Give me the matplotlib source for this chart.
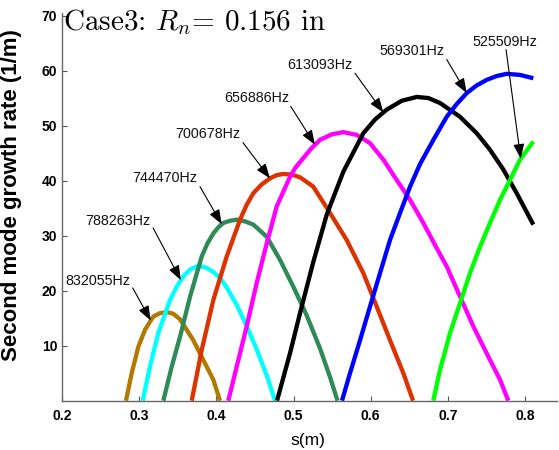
import numpy as np
import matplotlib
matplotlib.use('Agg')
import matplotlib.pyplot as plt

plt.rcParams['font.family'] = ['Liberation Sans', 'DejaVu Sans']
plt.rcParams['mathtext.fontset'] = 'cm'

# growth rate curves, one per frequency (s in m, rate in 1/m)
freqs = ['832055Hz', '788263Hz', '744470Hz', '700678Hz',
         '656886Hz', '613093Hz', '569301Hz', '525509Hz']
colors = ['#b07a00', '#00ffff', '#2e8b57', '#dd3300',
          '#ff00ff', '#000000', '#0000ff', '#00ff00']

s1 = [0.2829, 0.2903, 0.2989, 0.3076, 0.3183, 0.327, 0.3357, 0.3442, 0.3529, 0.3701, 0.3831, 0.3961, 0.4047]
g1 = [0.0, 5.0, 9.8, 12.9, 15.3, 15.9, 16.1, 15.8, 14.8, 11.0, 7.4, 3.8, 0.0]

s2 = [0.3046, 0.314, 0.3248, 0.34, 0.3486, 0.3572, 0.3666, 0.3766, 0.3866, 0.3961, 0.4047, 0.4134, 0.4264,
      0.4393, 0.4523, 0.4653, 0.476]
g2 = [0.0, 6.2, 12.3, 18.3, 20.7, 22.6, 23.9, 24.5, 24.2, 23.4, 22.3, 20.6, 17.4,
      13.6, 9.3, 4.6, 0.0]

s3 = [0.3313, 0.3422, 0.3529, 0.3659, 0.381, 0.3885, 0.3961, 0.4025, 0.409, 0.4177, 0.4264, 0.437, 0.4479,
      0.4653, 0.4825, 0.4998, 0.5171, 0.5343, 0.5473, 0.557]
g3 = [0.0, 6.2, 11.6, 18.9, 26.2, 28.6, 30.4, 31.5, 32.3, 32.7, 32.9, 32.6, 32.0,
      29.8, 25.6, 20.7, 15.5, 9.5, 4.3, 0.0]

s4 = [0.3681, 0.381, 0.3961, 0.4134, 0.4307, 0.4393, 0.4479, 0.4587, 0.4695, 0.4782, 0.4868, 0.4976, 0.5084,
      0.5256, 0.5473, 0.5689, 0.5904, 0.6078, 0.625, 0.6423, 0.6549]
g4 = [0.0, 9.2, 18.3, 26.2, 32.9, 35.6, 37.7, 39.3, 40.4, 41.0, 41.2, 41.1, 40.6,
      38.9, 34.1, 29.2, 23.2, 17.1, 11.0, 5.0, 0.0]

s5 = [0.4155, 0.4264, 0.4393, 0.4523, 0.4653, 0.4782, 0.4955, 0.5027, 0.511, 0.5227, 0.5343, 0.5494, 0.5645,
      0.5819, 0.5991, 0.6164, 0.6337, 0.651, 0.6682, 0.6833, 0.6985, 0.7158, 0.733, 0.7503, 0.7676, 0.7783]
g5 = [0.0, 6.2, 13.5, 21.4, 28.6, 35.3, 40.7, 42.4, 43.8, 45.8, 47.4, 48.4, 48.8,
      48.3, 46.8, 43.8, 40.1, 36.5, 32.3, 28.3, 24.4, 18.9, 13.5, 8.6, 3.8, 0.0]

s6 = [0.4786, 0.4954, 0.5084, 0.5256, 0.543, 0.5645, 0.5904, 0.6056, 0.6208, 0.6402, 0.6596, 0.6747, 0.6898,
      0.7157, 0.7374, 0.7546, 0.7719, 0.7892, 0.8107]
g6 = [0.0, 8.6, 15.9, 25.2, 33.8, 41.6, 48.6, 51.1, 52.9, 54.5, 55.2, 55.0, 54.1,
      51.6, 48.6, 45.6, 42.0, 37.7, 32.0]

s7 = [0.5628, 0.5732, 0.5862, 0.5991, 0.6121, 0.625, 0.638, 0.651, 0.6639, 0.6812, 0.6985, 0.7114, 0.7244,
      0.7374, 0.7503, 0.7633, 0.7763, 0.7935, 0.8107]
g7 = [0.0, 5.0, 11.0, 17.1, 23.2, 29.2, 34.1, 38.9, 43.0, 47.4, 51.6, 53.9, 55.9,
      57.3, 58.3, 59.0, 59.4, 59.2, 58.6]

s8 = [0.6811, 0.6898, 0.7028, 0.7157, 0.7287, 0.7417, 0.7546, 0.7676, 0.7805, 0.7935, 0.8107]
g8 = [0.0, 5.6, 12.3, 17.7, 23.2, 28.0, 32.3, 36.5, 40.1, 43.8, 47.1]

S = [s1, s2, s3, s4, s5, s6, s7, s8]
G = [g1, g2, g3, g4, g5, g6, g7, g8]

# label placement: text centre, arrow tail, s where the arrow meets the curve
lab_x = [0.246, 0.273, 0.3335, 0.389, 0.4523, 0.5343, 0.6533, 0.774]
lab_y = [21.8, 32.7, 40.4, 48.4, 55.0, 61.0, 63.5, 65.2]
tail_x = [0.2916, 0.318, 0.3788, 0.4345, 0.4963, 0.5797, 0.6985, 0.7754]
tail_y = [20.5, 31.4, 38.9, 46.9, 53.5, 59.5, 62.0, 63.8]
tip_s = [0.315, 0.354, 0.407, 0.4695, 0.5278, 0.6164, 0.7244, 0.7944]

fig = plt.figure(figsize=(5.59, 4.5), dpi=100)
ax = fig.add_axes([62/559, 49.3/450, 495/559, 387.4/450])

for s, g, c in zip(S, G, colors):
    ax.plot(s, g, '-', color=c, lw=3.1, solid_capstyle='butt', solid_joinstyle='round')

for i in range(len(freqs)):
    ax.text(lab_x[i], lab_y[i], freqs[i], fontsize=10.3, ha='center', va='center', color='#111111')
    tip = (tip_s[i], np.interp(tip_s[i], S[i], G[i]))
    ax.annotate('', xy=tip, xytext=(tail_x[i], tail_y[i]),
                arrowprops=dict(arrowstyle='-|>,head_length=0.75,head_width=0.28',
                                color='black', lw=0.8, shrinkA=0, shrinkB=0,
                                mutation_scale=12))

ax.text(0.003, 0.958, 'Case3: $R_n$= 0.156 in', transform=ax.transAxes,
        fontsize=21, family='cmr10', va='baseline', ha='left')

ax.set_xlim(0.2, 0.8414)
ax.set_ylim(0, 70.4)
ax.set_xticks([0.2, 0.3, 0.4, 0.5, 0.6, 0.7, 0.8])
ax.set_yticks([10, 20, 30, 40, 50, 60, 70])
ax.set_xticklabels(['0.2', '0.3', '0.4', '0.5', '0.6', '0.7', '0.8'], fontweight='bold')
ax.set_yticklabels(['10', '20', '30', '40', '50', '60', '70'], fontweight='bold')
ax.tick_params(direction='in', length=3.5, width=0.8, color='#555555', labelsize=10)
ax.tick_params(axis='x', pad=6)
ax.tick_params(axis='y', pad=3.5)

for side in ['top', 'right']:
    ax.spines[side].set_visible(False)
for side in ['left', 'bottom']:
    ax.spines[side].set_color('#666666')
    ax.spines[side].set_linewidth(1.0)

ax.set_xlabel('s(m)', fontsize=12.5)
ax.xaxis.set_label_coords(0.497, -0.084)
ax.set_ylabel('Second mode growth rate (1/m)', fontsize=16, fontweight='bold')
ax.yaxis.set_label_coords(-0.08, 0.53)

fig.savefig('out.png', dpi=100)
